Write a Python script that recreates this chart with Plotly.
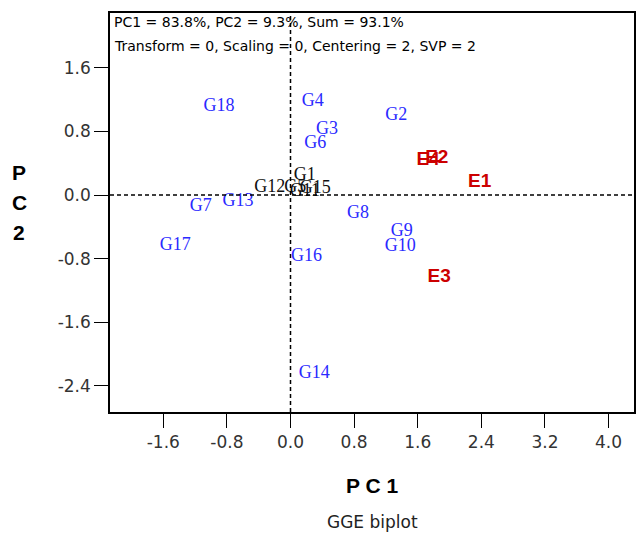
import plotly.graph_objects as go

# Genotype scores
gen_names = ["G1", "G2", "G3", "G4", "G5", "G6", "G7", "G8", "G9", "G10",
             "G11", "G12", "G13", "G14", "G15", "G16", "G17", "G18"]
gen_pc1 = [0.18, 1.33, 0.46, 0.28, 0.06, 0.31, -1.13, 0.85, 1.40, 1.38,
           0.18, -0.26, -0.66, 0.30, 0.31, 0.20, -1.45, -0.90]
gen_pc2 = [0.24, 1.00, 0.83, 1.18, 0.10, 0.65, -0.14, -0.23, -0.46, -0.65,
           0.04, 0.10, -0.08, -2.25, 0.08, -0.77, -0.64, 1.11]
gen_color = ["black", "blue", "blue", "blue", "black", "blue", "blue", "blue", "blue", "blue",
             "black", "black", "blue", "blue", "black", "blue", "blue", "blue"]

# Environment scores
env_names = ["E1", "E2", "E3", "E4"]
env_pc1 = [2.38, 1.84, 1.87, 1.73]
env_pc2 = [0.16, 0.46, -1.03, 0.44]

x_ticks = [-1.6, -0.8, 0.0, 0.8, 1.6, 2.4, 3.2, 4.0]
y_ticks = [-2.4, -1.6, -0.8, 0.0, 0.8, 1.6]

fig = go.Figure()
fig.add_trace(go.Scatter(
    x=gen_pc1, y=gen_pc2, mode="text", text=gen_names,
    textposition="middle center",
    textfont=dict(family="Liberation Serif", size=18, color=[
        "#111111" if c == "black" else "#2a2aff" for c in gen_color]),
    showlegend=False, hoverinfo="skip"))
fig.add_trace(go.Scatter(
    x=env_pc1, y=env_pc2, mode="text", text=["<b>%s</b>" % n for n in env_names],
    textposition="middle center",
    textfont=dict(family="Liberation Sans Narrow, Liberation Sans", size=19, color="#cc0000"),
    showlegend=False, hoverinfo="skip"))

xr = [-2.27, 4.32]
yr = [-2.73, 2.29]
fig.add_shape(type="line", x0=0, x1=0, y0=yr[0], y1=yr[1], xref="x", yref="y",
              line=dict(color="black", width=1.5, dash="4px,3px"))
fig.add_shape(type="line", x0=xr[0], x1=xr[1], y0=0, y1=0, xref="x", yref="y",
              line=dict(color="black", width=1.5, dash="4px,3px"))

tickfont = dict(family="DejaVu Sans", size=17, color="#333333")
fig.update_xaxes(range=xr, tickvals=x_ticks, ticktext=["%.1f" % v for v in x_ticks],
                 ticks="outside", ticklen=14, tickwidth=1.2, tickcolor="black",
                 showline=True, linecolor="black", linewidth=1.5, mirror=True,
                 showgrid=False, zeroline=False, tickfont=tickfont)
fig.update_yaxes(range=yr, tickvals=y_ticks, ticktext=["%.1f" % v for v in y_ticks],
                 ticks="outside", ticklen=14, tickwidth=1.2, tickcolor="black",
                 showline=True, linecolor="black", linewidth=1.5, mirror=True,
                 showgrid=False, zeroline=False, tickfont=tickfont)

def ann(text, x, y, size, xanchor="center", bold=False, family="DejaVu Sans", color="black"):
    return dict(text=("<b>%s</b>" % text) if bold else text, xref="paper", yref="paper",
                x=x, y=y, xanchor=xanchor, yanchor="middle", showarrow=False,
                font=dict(family=family, size=size, color=color))

fig.update_layout(
    width=637, height=533,
    margin=dict(l=110, r=1, t=13, b=121),
    paper_bgcolor="white", plot_bgcolor="white",
    annotations=[
        ann("PC1 = 83.8%, PC2 = 9.3%, Sum = 93.1%", 0.004, 0.977, 14, xanchor="left"),
        ann("Transform = 0, Scaling = 0, Centering = 2, SVP = 2", 0.004, 0.917, 14, xanchor="left"),
        ann("P C 1", 0.5, -0.183, 21, bold=True, family="Liberation Sans"),
        ann("GGE biplot", 0.5, -0.276, 17, color="#222222"),
        ann("P", -0.173, 0.6015, 21, bold=True, family="Liberation Sans"),
        ann("C", -0.173, 0.526, 21, bold=True, family="Liberation Sans"),
        ann("2", -0.173, 0.451, 21, bold=True, family="Liberation Sans"),
    ],
)

fig.write_html("out.html")
